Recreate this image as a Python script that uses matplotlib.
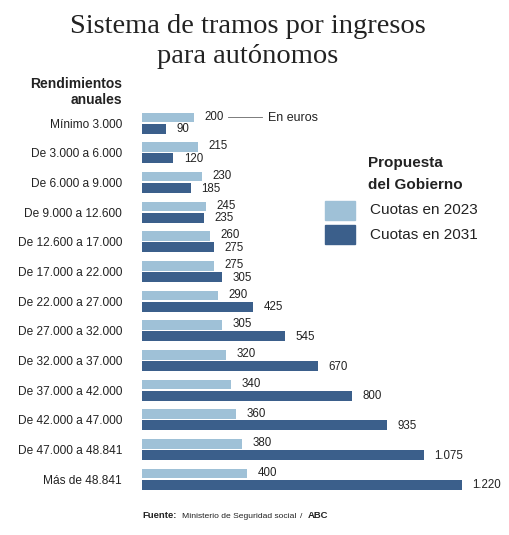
import numpy as np
import matplotlib
matplotlib.use("Agg")
import matplotlib.pyplot as plt
from matplotlib.patches import Rectangle

W, H = 510, 535

tramos = ["Mínimo 3.000", "De 3.000 a 6.000", "De 6.000 a 9.000", "De 9.000 a 12.600",
          "De 12.600 a 17.000", "De 17.000 a 22.000", "De 22.000 a 27.000",
          "De 27.000 a 32.000", "De 32.000 a 37.000", "De 37.000 a 42.000",
          "De 42.000 a 47.000", "De 47.000 a 48.841", "Más de 48.841"]
cuotas_2023 = [200, 215, 230, 245, 260, 275, 290, 305, 320, 340, 360, 380, 400]
cuotas_2031 = [90, 120, 185, 235, 275, 305, 425, 545, 670, 800, 935, 1075, 1220]

light = "#9fc1d7"
dark = "#3b5f8b"

plt.rcParams['font.family'] = ['Liberation Sans', 'DejaVu Sans']


def fmt(v):
    return f"{v:,}".replace(",", ".")


def fx(x):
    return x / W


def fy(y):
    return 1 - y / H


fig = plt.figure(figsize=(W / 100, H / 100), dpi=100)
fig.patch.set_facecolor("white")

# axes placed in pixel terms: x from 142 to 500, y from 100 to 500
ax = fig.add_axes([fx(142), fy(500), (500 - 142) / W, 400 / H])
pitch = 29.67
scale = 0.2623
ax.set_xlim(0, 358 / scale)
ax.set_ylim((500 - 123) / pitch, (100 - 123) / pitch)

y = np.arange(len(tramos))
off = 5.6 / pitch
hgt = 10 / pitch
ax.barh(y - off, cuotas_2023, height=hgt * 0.95, color=light)
ax.barh(y + off, cuotas_2031, height=hgt, color=dark)

for i in range(len(tramos)):
    ax.annotate(fmt(cuotas_2023[i]), (cuotas_2023[i], y[i] - off - 0.02),
                xytext=(7.5, 0), textcoords="offset points",
                ha="left", va="center", fontsize=8.3, color="#222222")
    ax.annotate(fmt(cuotas_2031[i]), (cuotas_2031[i], y[i] + off + 0.02),
                xytext=(7.5, 0), textcoords="offset points",
                ha="left", va="center", fontsize=8.3, color="#222222")

ax.set_yticks(y)
ax.set_yticklabels(tramos, fontsize=8.6, color="#222222")
ax.tick_params(axis="y", length=0, pad=14.4)
ax.set_xticks([])
for s in ax.spines.values():
    s.set_visible(False)

# "En euros" pointer
ax.plot([(228 - 142) / scale, (262 - 142) / scale], [0 - off, 0 - off],
        color="#666666", lw=0.6)
fig.text(fx(268), fy(118), "En euros", fontsize=9, ha="left", va="center", color="#222222")

# title
fig.text(fx(248), fy(33), "Sistema de tramos por ingresos", fontsize=20.5,
         family="Liberation Serif", ha="center", va="baseline", color="#222222")
fig.text(fx(248), fy(63), "para autónomos", fontsize=20.5,
         family="Liberation Serif", ha="center", va="baseline", color="#222222")

fig.text(fx(122), fy(84), "Rendimientos", fontsize=10, weight="bold", ha="right", va="center", color="#222222")
fig.text(fx(122), fy(100), "anuales", fontsize=10, weight="bold", ha="right", va="center", color="#222222")

# legend
fig.text(fx(368), fy(163), "Propuesta", fontsize=11, weight="bold", ha="left", va="center", color="#222222")
fig.text(fx(368), fy(185), "del Gobierno", fontsize=11, weight="bold", ha="left", va="center", color="#222222")
fig.add_artist(Rectangle((fx(325), fy(220)), 30 / W, 19 / H, transform=fig.transFigure, color=light))
fig.add_artist(Rectangle((fx(325), fy(244)), 30 / W, 19 / H, transform=fig.transFigure, color=dark))
fig.text(fx(370), fy(210), "Cuotas en 2023", fontsize=11, ha="left", va="center", color="#222222")
fig.text(fx(370), fy(235), "Cuotas en 2031", fontsize=11, ha="left", va="center", color="#222222")

# footer
fig.text(fx(142), fy(518), "Fuente:", fontsize=6.8, weight="bold", ha="left", va="baseline", color="#222222")
fig.text(fx(182), fy(518), "Ministerio de Seguridad social", fontsize=6.1, ha="left", va="baseline", color="#222222")
fig.text(fx(300), fy(518), "/", fontsize=6.1, ha="left", va="baseline", color="#222222")
fig.text(fx(308), fy(518), "ABC", fontsize=6.8, weight="bold", ha="left", va="baseline", color="#222222")

fig.savefig("out.png", dpi=100)
